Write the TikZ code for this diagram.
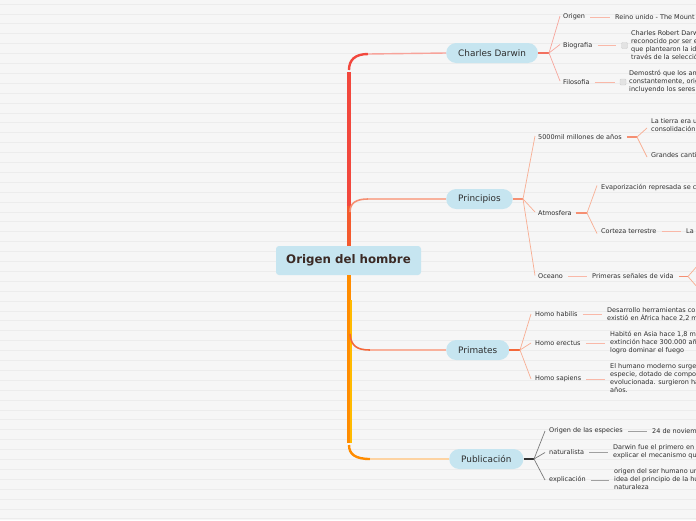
\documentclass[tikz,border=0pt]{standalone}
\usepackage{fontspec}
\setmainfont{DejaVu Sans}
\definecolor{bg}{HTML}{F6F6F6}
\definecolor{stripe}{HTML}{ECECEC}
\definecolor{nodeblue}{HTML}{C6E5F0}
\definecolor{txt}{HTML}{2E2E2E}
\definecolor{ctxt}{HTML}{3B2A25}
\definecolor{trunkred}{HTML}{F2473D}
\definecolor{trunkor}{HTML}{F45A2E}
\definecolor{trunkorange}{HTML}{FF8C00}
\definecolor{brred}{HTML}{F7A39A}
\definecolor{brsal}{HTML}{F8B19C}
\definecolor{brpale}{HTML}{FDD3A2}
\definecolor{stubred}{HTML}{F2705F}
\definecolor{stubsal}{HTML}{F58F72}
\definecolor{stubor}{HTML}{F4683A}
\definecolor{fanred}{HTML}{F7A69C}
\definecolor{fansal}{HTML}{F8AD92}
\definecolor{leafln}{HTML}{F9B8A8}
\definecolor{grayfan}{HTML}{7A7A7A}
\definecolor{grayleaf}{HTML}{A0A0A0}
\tikzset{
  mainnode/.style={rounded corners=10pt, fill=nodeblue, text=txt, inner xsep=12pt, inner ysep=0pt, minimum height=20pt, anchor=west, font=\fontsize{8.9}{10}\selectfont},
  rootnode/.style={rounded corners=3pt, fill=nodeblue, text=ctxt, minimum width=145pt, minimum height=29pt, inner sep=0pt, font=\fontsize{11.8}{13}\selectfont\bfseries},
  leaf/.style={text=txt, inner sep=0pt, anchor=west, align=left, font=\fontsize{6.5}{8}\selectfont},
  icon/.style={rectangle, rounded corners=1pt, minimum size=6pt, inner sep=0pt, fill=black!11, draw=black!19, line width=0.4pt},
  stub/.style={line width=1.2pt},
  fan/.style={line width=0.7pt},
  leafline/.style={line width=0.8pt, shorten <=5pt, shorten >=5pt},
}
\begin{document}
\begin{tikzpicture}[x=1pt,y=-1pt]
\clip (0,0) rectangle (696,520);
\fill[bg] (0,0) rectangle (696,520);
\foreach \i in {0,...,52} \draw[stripe, line width=0.8pt] (0,4+\i*9.9) -- (696,4+\i*9.9);

% main nodes
\node[rootnode] (root) at (348.5,260.5) {Origen del hombre};
\node[mainnode] (cd) at (446,53) {Charles Darwin};
\node[mainnode] (pr) at (446,199) {Principios};
\node[mainnode] (pm) at (446,350) {Primates};
\node[mainnode] (pu) at (449,459) {Publicación};

% trunk and branches
\coordinate (tt) at (349,72);
\coordinate (tp) at (349,206);
\coordinate (tb) at (349,443);
\draw[line width=4.5pt, trunkred] (tt) -- (tp);
\draw[line width=4.5pt, trunkor] (tp) -- (root.north -| tp);
\draw[line width=4.5pt, trunkorange] (root.south -| tb) -- (tb);
\draw[line width=1.5pt, trunkorange!60!yellow] (350.8,300) -- (350.8,443);
\draw[line width=2.4pt, trunkred] ([yshift=2]tt) .. controls (349,60) and (355,54) .. (368,54);
\draw[line width=1.4pt, brred] (368,54) -- (cd.west);
\draw[line width=1.6pt, stubsal] (350,212) .. controls (350,203) and (356,199) .. (368,199);
\draw[line width=1.2pt, brsal] (368,199) -- (pr.west);
\draw[line width=1.6pt, stubor] (350,334) .. controls (351,346) and (357,350) .. (370,350);
\draw[line width=1.2pt, brsal] (370,350) -- (pm.west);
\draw[line width=2.4pt, trunkorange] ([yshift=-2]tb) .. controls (349,454) and (355,459) .. (370,459);
\draw[line width=1.4pt, brpale] (370,459) -- (pu.west);

% ---------- Charles Darwin ----------
\coordinate (jd) at (549,53);
\node[leaf] (d1) at (563,17) {Origen};
\node[leaf] (d1a) at (615,17) {Reino unido - The Mount};
\node[leaf] (d2) at (563,45.5) {Biografia};
\node[icon] (d2i) at (624.5,45.5) {};
\node[leaf] (d2a) at (631,45.5) {Charles Robert Darw\\reconocido por ser e\\que plantearon la id\\través de la selecció};
\node[leaf] (d3) at (563,82) {Filosofia};
\node[icon] (d3i) at (623,82) {};
\node[leaf] (d3a) at (629,82) {Demostró que los an\\constantemente, orig\\incluyendo los seres};
\draw[stub, stubred] (cd.east) -- (jd);
\foreach \c in {d1,d2,d3} \draw[fan, fanred] (jd) -- ([xshift=-3pt,yshift=1pt]\c.west);
\draw[leafline, leafln] (d1.east) -- (d1a.west);
\draw[leafline, leafln] (d2.east) -- (d2i.west);
\draw[leafline, leafln] (d3.east) -- (d3i.west);

% ---------- Principios ----------
\coordinate (jp) at (523,199);
\node[leaf] (p1) at (538,137) {5000mil millones de años};
\node[leaf] (p1a) at (651,125) {La tierra era u\\consolidación};
\node[leaf] (p1b) at (651,155) {Grandes canti};
\node[leaf] (p2) at (538,213) {Atmosfera};
\node[leaf] (p2a) at (601,187.5) {Evaporización represada se c};
\node[leaf] (p2b) at (601,231.5) {Corteza terrestre};
\node[leaf] (p2c) at (686,231.5) {La};
\node[leaf] (p3) at (538,276.5) {Oceano};
\node[leaf] (p3a) at (592,276.5) {Primeras señales de vida};
\draw[stub, stubsal] (pr.east) -- (jp);
\foreach \c in {p1,p2,p3} \draw[fan, fansal] (jp) -- ([xshift=-3pt,yshift=1pt]\c.west);
\coordinate (jp1) at (637,137);
\draw[stub, stubsal, shorten <=5pt] (p1.east) -- (jp1);
\draw[fan, fansal] (jp1) -- ([xshift=-4pt,yshift=-3pt]p1a.west);
\draw[fan, fansal] (jp1) -- ([xshift=-4pt,yshift=-2pt]p1b.west);
\coordinate (jp2) at (587,213);
\draw[stub, stubsal, shorten <=4pt] (p2.east) -- (jp2);
\draw[fan, fansal] (jp2) -- ([xshift=-4pt,yshift=2pt]p2a.west);
\draw[fan, fansal] (jp2) -- ([xshift=-4pt,yshift=-2pt]p2b.west);
\draw[leafline, leafln] (p2b.east) -- (p2c.west);
\draw[leafline, leafln] (p3.east) -- (p3a.west);
\coordinate (jp3) at (688,276.5);
\coordinate (jp3u) at (698,265);
\coordinate (jp3d) at (698,288);
\draw[stub, stubsal, shorten <=5pt] (p3a.east) -- (jp3);
\draw[fan, fansal] (jp3) -- (jp3u);
\draw[fan, fansal] (jp3) -- (jp3d);

% ---------- Primates ----------
\coordinate (jm) at (520,350);
\node[leaf] (m1) at (535,314) {Homo habilis};
\node[leaf] (m1a) at (607,314) {Desarrollo herramientas co\\existió en África hace 2,2 m};
\node[leaf] (m2) at (535,343) {Homo erectus};
\node[leaf] (m2a) at (610,343) {Habitó en Asia hace 1,8 m\\extinción hace 300.000 añ\\logro dominar el fuego};
\node[leaf] (m3) at (535,379) {Homo sapiens};
\node[leaf] (m3a) at (610,378.5) {El humano moderno surge\\especie, dotado de compo\\evolucionada. surgieron ha\\años.};
\draw[stub, stubor] (pm.east) -- (jm);
\foreach \c in {m1,m2,m3} \draw[fan, fansal] (jm) -- ([xshift=-4pt,yshift=0pt]\c.west);
\draw[leafline, leafln] (m1.east) -- (m1a.west |- m1.east);
\draw[leafline, leafln] (m2.east) -- (m2a.west |- m2.east);
\draw[leafline, leafln] (m3.east) -- (m3a.west |- m3.east);

% ---------- Publicacion ----------
\coordinate (ju) at (534,459);
\node[leaf] (u1) at (549,431) {Origen de las especies};
\node[leaf] (u1a) at (652,431) {24 de noviem};
\node[leaf] (u2) at (549,452.5) {naturalista};
\node[leaf] (u2a) at (613,452) {Darwin fue el primero en\\explicar el mecanismo qu};
\node[leaf] (u3) at (549,480) {explicación};
\node[leaf] (u3a) at (614,479.5) {origen del ser humano un\\idea del principio de la hu\\naturaleza};
\draw[stub, black!80] (pu.east) -- (ju);
\foreach \c in {u1,u2,u3} \draw[fan, grayfan] (ju) -- ([xshift=-4pt,yshift=0pt]\c.west);
\draw[leafline, grayleaf] (u1.east) -- (u1a.west);
\draw[leafline, grayleaf] (u2.east) -- (u2a.west |- u2.east);
\draw[leafline, grayleaf] (u3.east) -- (u3a.west |- u3.east);
\end{tikzpicture}
\end{document}
